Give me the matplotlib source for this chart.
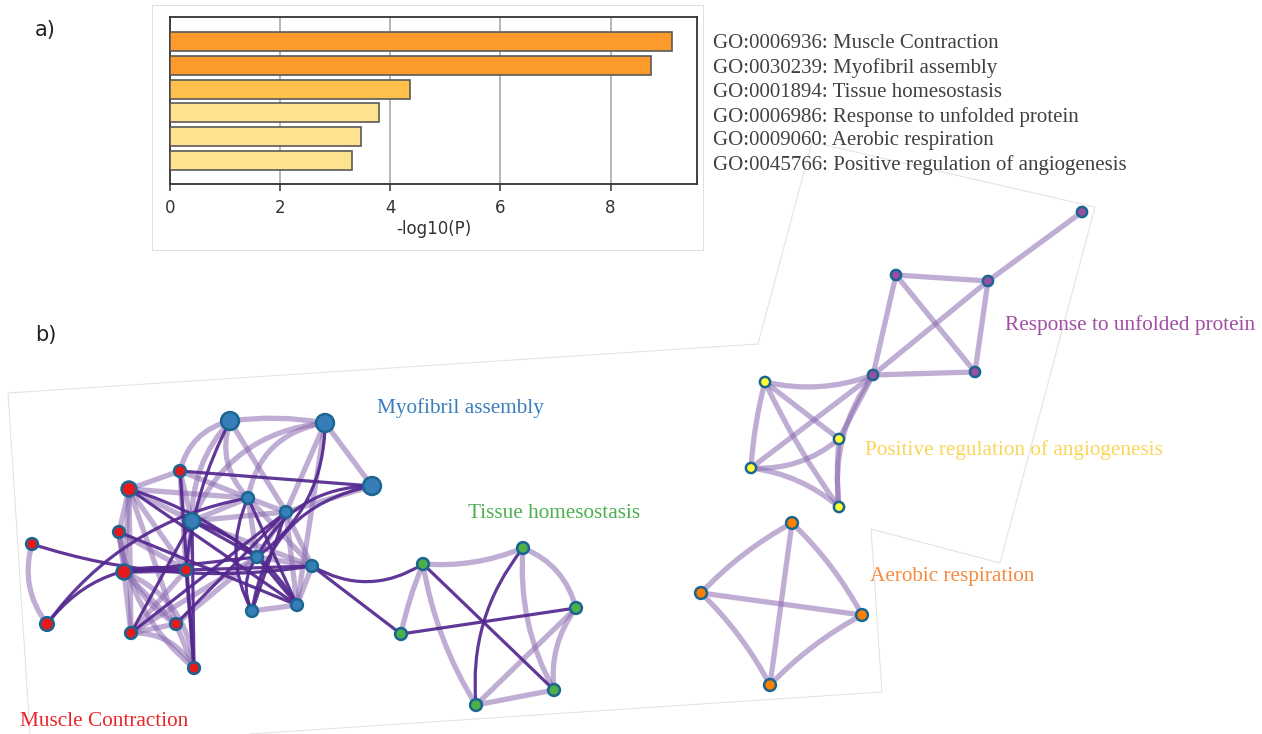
import matplotlib.pyplot as plt
from matplotlib.patches import FancyArrowPatch

# ---- enrichment bar chart data ----
terms = ['GO:0006936: Muscle Contraction',
         'GO:0030239: Myofibril assembly',
         'GO:0001894: Tissue homesostasis',
         'GO:0006986: Response to unfolded protein',
         'GO:0009060: Aerobic respiration',
         'GO:0045766: Positive regulation of angiogenesis']
log_p = [9.12, 8.73, 4.35, 3.79, 3.46, 3.30]
bar_colors = ['#fd9a2c', '#fd9a2c', '#febf4b', '#fee28f', '#fee28f', '#fee28f']

# ---- network: node layout (pixel space), cluster membership, node size ----
node_xy = {
    'b1': (230, 421), 'b2': (325, 423), 'b3': (372, 486), 'b4': (192, 521),
    'b5': (248, 498), 'b6': (286, 512), 'b7': (257, 557), 'b8': (312, 566),
    'b9': (252, 611), 'b10': (297, 605),
    'r1': (129, 489), 'r2': (180, 471), 'r3': (119, 532), 'r4': (32, 544),
    'r5': (124, 572), 'r6': (186, 570), 'r7': (47, 624), 'r8': (131, 633),
    'r9': (176, 624), 'r10': (194, 668),
    'g1': (423, 564), 'g2': (523, 548), 'g3': (576, 608), 'g4': (401, 634),
    'g5': (554, 690), 'g6': (476, 705),
    'o1': (792, 523), 'o2': (701, 593), 'o3': (862, 615), 'o4': (770, 685),
    'y1': (765, 382), 'y2': (839, 439), 'y3': (751, 468), 'y4': (839, 507),
    'p1': (896, 275), 'p2': (988, 281), 'p3': (873, 375), 'p4': (975, 372),
    'p5': (1082, 212),
}
# relative node weight (1 = smallest)
node_weight = {'b1': 2.3, 'b2': 2.3, 'b3': 2.3, 'b4': 1.8, 'r1': 1.6, 'r5': 1.6,
               'r7': 1.35, 'y1': 0.75, 'y2': 0.75, 'y3': 0.75, 'y4': 0.75,
               'p1': 0.75, 'p2': 0.75, 'p3': 0.75, 'p4': 0.75, 'p5': 0.75}

clusters = {
    'b': ('Myofibril assembly', '#377eb8', '#3a7dbd', (377, 408)),
    'r': ('Muscle Contraction', '#e41a1c', '#e8262a', (20, 722)),
    'g': ('Tissue homesostasis', '#4daf4a', '#4caf50', (468, 514)),
    'o': ('Aerobic respiration', '#ff7f00', '#f58b3f', (870, 576)),
    'y': ('Positive regulation of angiogenesis', '#ffff33', '#fbd65a', (865, 450)),
    'p': ('Response to unfolded protein', '#984ea3', '#a24da5', (1005, 325)),
}

strong_edges = [
    ('b1', 'r6'), ('b2', 'b7'), ('b3', 'b9'), ('r1', 'b10'), ('r2', 'r10'),
    ('r4', 'b8'), ('r7', 'b5'), ('r7', 'r6'), ('r3', 'b10'), ('r5', 'b8'),
    ('r8', 'b6'), ('b5', 'b9'), ('b7', 'b9'), ('b4', 'b7'), ('b6', 'b9'),
    ('b5', 'b10'), ('b8', 'g1'), ('b8', 'g4'), ('r2', 'b3'), ('b7', 'b10'),
    ('r6', 'r10'), ('r8', 'b4'), ('r1', 'b7'), ('r5', 'b7'), ('b4', 'b10'),
    ('r9', 'b6'), ('b3', 'b7'), ('b4', 'r10'),
    ('g1', 'g5'), ('g4', 'g3'), ('g2', 'g6'),
]
weak_edges = [
    ('b1', 'b2'), ('b2', 'b3'), ('b1', 'b5'), ('b1', 'r2'), ('b1', 'b6'),
    ('b2', 'b5'), ('b2', 'b6'), ('b3', 'b6'), ('r1', 'r2'), ('r1', 'r3'),
    ('r4', 'r7'), ('r3', 'r5'), ('r5', 'r8'), ('r8', 'r10'), ('r9', 'r10'),
    ('r8', 'r9'), ('r5', 'r9'), ('r6', 'r8'), ('r5', 'r10'), ('b9', 'b10'),
    ('b7', 'b8'), ('b6', 'b8'), ('b5', 'b6'), ('b8', 'b10'), ('b4', 'b5'),
    ('r1', 'b4'), ('r2', 'b4'), ('r1', 'b5'), ('r1', 'r6'), ('r3', 'r6'),
    ('b4', 'r6'), ('r9', 'b7'), ('r1', 'r5'), ('r2', 'b5'), ('b6', 'b10'),
    ('r1', 'r9'), ('r3', 'r9'), ('r3', 'r10'), ('r5', 'r6'), ('r2', 'r6'),
    ('b1', 'b4'), ('b2', 'b4'), ('b5', 'b7'), ('b4', 'b6'), ('b6', 'b7'),
    ('b4', 'b8'), ('b5', 'b8'), ('b2', 'b10'), ('r1', 'r8'), ('r8', 'b7'),
    ('g1', 'g2'), ('g1', 'g4'), ('g2', 'g3'), ('g3', 'g5'), ('g5', 'g6'),
    ('g2', 'g5'), ('g1', 'g6'), ('g6', 'g3'),
    ('o1', 'o2'), ('o1', 'o3'), ('o2', 'o4'), ('o3', 'o4'), ('o1', 'o4'), ('o2', 'o3'),
    ('p1', 'p2'), ('p1', 'p3'), ('p1', 'p4'), ('p2', 'p4'), ('p2', 'p3'),
    ('p3', 'p4'), ('p2', 'p5'),
    ('y1', 'p3'), ('y3', 'p3'), ('y4', 'p3'), ('y2', 'p3'),
    ('y1', 'y3'), ('y1', 'y2'), ('y1', 'y4'), ('y3', 'y2'), ('y3', 'y4'), ('y2', 'y4'),
]

# edge curvature (arc3 rad), straight when missing
bend = {
    ('b1', 'b2'): -0.08, ('b1', 'r6'): 0.1, ('b2', 'b7'): -0.25, ('b3', 'b9'): 0.35,
    ('r4', 'b8'): 0.12, ('r7', 'b5'): -0.2, ('r7', 'r6'): -0.3, ('b5', 'b9'): 0.25,
    ('b7', 'b9'): 0.3, ('b8', 'g1'): 0.3, ('r4', 'r7'): 0.25, ('r8', 'r10'): -0.3,
    ('r5', 'r10'): -0.3, ('b1', 'b5'): 0.3, ('b2', 'b5'): 0.35, ('b1', 'r2'): 0.3,
    ('r3', 'r9'): 0.25, ('r3', 'r10'): 0.2, ('b2', 'b4'): 0.3, ('b1', 'b4'): 0.2,
    ('b3', 'b7'): 0.3, ('b4', 'b10'): -0.2, ('r1', 'b7'): -0.1,
    ('g1', 'g2'): 0.12, ('g1', 'g4'): 0.05, ('g2', 'g3'): -0.25, ('g3', 'g5'): 0.2,
    ('g2', 'g6'): 0.2, ('g2', 'g5'): 0.15, ('g1', 'g6'): 0.1,
    ('o1', 'o2'): 0.08, ('o1', 'o3'): -0.08, ('o2', 'o4'): -0.08, ('o3', 'o4'): 0.08,
    ('y1', 'p3'): 0.15, ('y4', 'p3'): -0.2, ('y1', 'y3'): 0.05, ('y3', 'y2'): 0.2,
    ('y3', 'y4'): -0.15, ('y1', 'y4'): 0.05, ('y2', 'y4'): 0.05,
}

W, H = 1262, 734
fig = plt.figure(figsize=(W / 100, H / 100), dpi=100)
fig.patch.set_facecolor('white')

net = fig.add_axes([0, 0, 1, 1])
net.set_xlim(0, W)
net.set_ylim(H, 0)
net.axis('off')

# faint outlines of the pasted panels
panel_lines = [
    [(152, 5), (703, 5), (703, 250), (152, 250), (152, 5)],
    [(30, 734), (8, 393), (758, 344)],
    [(758, 344), (812, 142), (1095, 207), (1000, 563), (871, 529), (882, 692), (250, 734)],
]
for pts in panel_lines:
    xs, ys = zip(*pts)
    net.plot(xs, ys, color='#e0e0e0', lw=0.7, zorder=0)


def draw_edge(a, b, color, lw, alpha, z):
    rad = bend.get((a, b), 0.0)
    patch = FancyArrowPatch(node_xy[a], node_xy[b], arrowstyle='-',
                            connectionstyle=f'arc3,rad={rad}',
                            color=color, lw=lw, alpha=alpha,
                            shrinkA=0, shrinkB=0, capstyle='round', zorder=z)
    net.add_patch(patch)


for a, b in weak_edges:
    draw_edge(a, b, '#8c6bb1', 3.8, 0.55, 1)
for a, b in strong_edges:
    draw_edge(a, b, '#54278f', 2.3, 0.92, 2)

for key, (label, fill, text_col, (tx, ty)) in clusters.items():
    names = [n for n in node_xy if n.rstrip('0123456789') == key]
    xs = [node_xy[n][0] for n in names]
    ys = [node_xy[n][1] for n in names]
    sizes = [72 * node_weight.get(n, 1) for n in names]
    net.scatter(xs, ys, s=sizes, c=fill, edgecolors='#1a6690', linewidths=1.8, zorder=3)
    net.text(tx, ty, label, color=text_col, fontsize=15.3, family='Liberation Serif',
             va='center', ha='left', zorder=4)

# panel letters
fig.text(35 / W, 1 - 30 / H, 'a)', fontsize=15, color='#222222', va='center')
fig.text(35 / W, 1 - 335 / H, 'b)', fontsize=15, color='#222222', va='center')

# ---- bar chart ----
ax = fig.add_axes([170 / W, 1 - 184 / H, (697 - 170) / W, (184 - 17) / H])
pos = list(range(len(log_p)))
ax.barh(pos, log_p, height=0.8, color=bar_colors, edgecolor='#5a5a5a', linewidth=1.2, zorder=3)
ax.set_ylim(5.98, -1.02)
ax.set_xlim(0, 9.57)
ax.set_yticks([])
ax.set_xticks([0, 2, 4, 6, 8])
ax.grid(axis='x', color='#b5b5b5', lw=1.4, zorder=0)
ax.tick_params(axis='x', labelsize=12, colors='#333333', length=5, width=1.1, pad=6)
ax.set_xlabel('-log10(P)', fontsize=12, color='#333333', labelpad=2)
for sp in ax.spines.values():
    sp.set_color('#333333')
    sp.set_linewidth(1.3)

for i, t in enumerate(terms):
    fig.text(713 / W, 1 - (44 + 24.2 * i) / H, t, fontsize=15, family='Liberation Serif',
             color='#404040', va='center', ha='left')

fig.savefig('out.png', dpi=100, facecolor='white')
